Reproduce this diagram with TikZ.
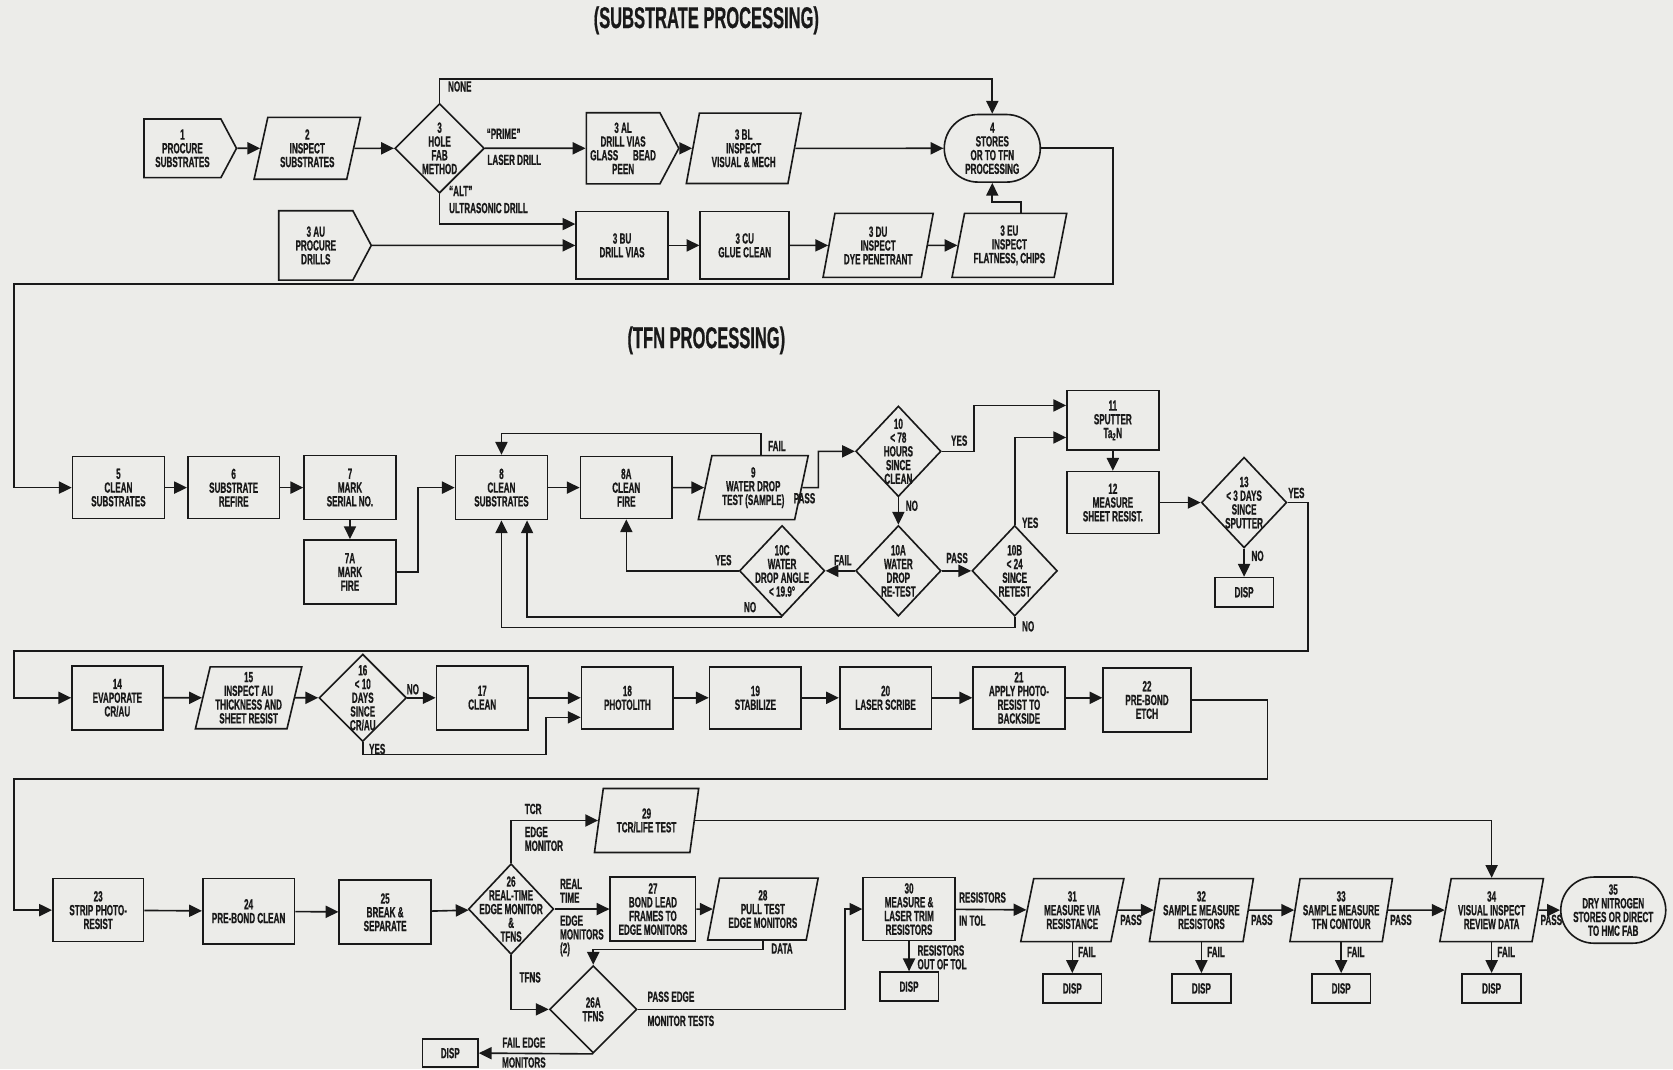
\documentclass[tikz,border=0pt]{standalone}
\usepackage{fontspec}
\setmainfont{Liberation Sans}[FakeStretch=0.55,BoldFeatures={FakeBold=0.6}]
\usetikzlibrary{positioning,shapes.geometric,shapes.symbols,shapes.misc,arrows.meta}

\definecolor{paper}{RGB}{236,236,233}
\definecolor{ink}{RGB}{25,25,25}
\newcommand{\chartfont}{\fontsize{11.8}{11}\selectfont\bfseries}
\newcommand{\titlefont}{\fontsize{24}{24}\selectfont\bfseries}

\begin{document}
\begin{tikzpicture}[x=0.03cm,y=-0.03cm,color=ink,line width=1.3pt,
    every node/.style={font=\chartfont,align=center,inner sep=0pt},
    box/.style={draw,rectangle,minimum width=2.58cm,minimum height=1.77cm},
    para/.style={draw,trapezium,trapezium left angle=76,trapezium right angle=104,
      trapezium stretches=true,minimum width=3cm,minimum height=1.74cm},
    pent/.style={draw,signal,signal to=east,signal pointer angle=124,
      minimum width=2.6cm,minimum height=1.65cm},
    dec/.style={draw,diamond,minimum width=2.4cm,minimum height=2.55cm},
    oval/.style={draw,rounded rectangle,minimum width=2.7cm,minimum height=1.9cm},
    disp/.style={draw,rectangle,minimum width=1.65cm,minimum height=0.82cm},
    lbl/.style={inner sep=1pt},
    arr/.style={-{Triangle[length=0.36cm,width=0.34cm]}}]

  \fill[paper] (0,0) rectangle (1568,1002);
  \useasboundingbox (0,0) rectangle (1568,1002);

  %substrate processing
  \node[font=\titlefont] (ttlsub) at (662,19) {(SUBSTRATE PROCESSING)};
  \node[pent] (p1) at (171,139) {1\\PROCURE\\SUBSTRATES};
  \node[para] (p2) at (288,139) {2\\INSPECT\\SUBSTRATES};
  \node[dec,minimum width=2.52cm,minimum height=2.52cm,
    label={center:{3\\HOLE\\FAB\\METHOD}}] (p3) at (412,139) {};
  \node[pent,minimum height=2cm] (p3AL) at (584,139) {3 AL\\DRILL VIAS\\GLASS\quad BEAD\\PEEN};
  \node[para,minimum width=3.24cm,minimum height=1.98cm] (p3BL) at (697,139) {3 BL\\INSPECT\\VISUAL \& MECH};
  \node[oval] (p4) at (930,139) {4\\STORES\\OR TO TFN\\PROCESSING};
  \node[pent,minimum height=1.95cm] (p3AU) at (296,230) {3 AU\\PROCURE\\DRILLS};
  \node[box,minimum height=1.9cm] (p3BU) at (583,230) {3 BU\\DRILL VIAS};
  \node[box,minimum width=2.5cm,minimum height=1.9cm] (p3CU) at (698,230) {3 CU\\GLUE CLEAN};
  \node[para,minimum width=3.1cm,minimum height=1.8cm] (p3DU) at (823,230) {3 DU\\INSPECT\\DYE PENETRANT};
  \node[para,minimum width=3.24cm,minimum height=1.8cm] (p3EU) at (946,230) {3 EU\\INSPECT\\FLATNESS, CHIPS};

  \draw[arr] (p1) -- (p2);
  \draw[arr] (p2) -- (p3);
  \draw[arr] (p3.north) -- ++(0,-22) -| (p4.north);
  \draw[arr] (p3.east) -- (p3AL);
  \draw[arr] (p3.south) |- ([yshift=0.6cm]p3BU.west);
  \draw[arr] (p3AL) -- (p3BL);
  \draw[arr] (p3BL) -- (p4);
  \draw[arr] (p3AU) -- (p3BU);
  \draw[arr] (p3BU) -- (p3CU);
  \draw[arr] (p3CU) -- (p3DU);
  \draw[arr] (p3DU) -- (p3EU);
  \draw[arr] ([xshift=0.33cm]p3EU.north) -- ++(0,-10) -| (p4.south);

  \node[lbl,anchor=west] (lnone) at (418,81) {NONE};
  \node[lbl,anchor=south] (lprime) at (472,132) {“PRIME”};
  \node[lbl,anchor=north] (llaser) at (482,143) {LASER DRILL};
  \node[lbl,anchor=west] (lalt) at (419,179) {“ALT”};
  \node[lbl,anchor=west] (lultra) at (419,195) {ULTRASONIC DRILL};

  %tfn processing
  \node[font=\titlefont] (ttltfn) at (662,319) {(TFN PROCESSING)};
  \node[box,minimum height=1.74cm] (p5) at (111,457) {5\\CLEAN\\SUBSTRATES};
  \node[box,minimum height=1.74cm] (p6) at (219,457) {6\\SUBSTRATE\\REFIRE};
  \node[box,minimum height=1.8cm] (p7) at (328,457) {7\\MARK\\SERIAL NO.};
  \node[box,minimum height=1.8cm] (p7A) at (328,536) {7A\\MARK\\FIRE};
  \node[box,minimum height=1.8cm] (p8) at (470,457) {8\\CLEAN\\SUBSTRATES};
  \node[box,minimum height=1.74cm] (p8A) at (587,457) {8A\\CLEAN\\FIRE};
  \node[para,minimum width=3.1cm,minimum height=1.8cm] (p9) at (706,457) {9\\WATER DROP\\TEST (SAMPLE)};
  \node[dec,label={center:{10\\< 78\\HOURS\\SINCE\\CLEAN}}] (p10) at (842,423) {};
  \node[dec,label={center:{10A\\WATER\\DROP\\RE-TEST}}] (p10A) at (842,535) {};
  \node[dec,label={center:{10B\\< 24\\SINCE\\RETEST}}] (p10B) at (951,535) {};
  \node[dec,label={center:{10C\\WATER\\DROP ANGLE\\< 19.9°}}] (p10C) at (733,535) {};
  \node[box,minimum height=1.68cm] (p11) at (1043,394) {11\\SPUTTER\\Ta\textsubscript{2}N};
  \node[box,minimum height=1.74cm] (p12) at (1043,471) {12\\MEASURE\\SHEET RESIST.};
  \node[dec,label={center:{13\\< 3 DAYS\\SINCE\\SPUTTER}}] (p13) at (1166,471) {};
  \node[disp] (disp13) at (1166,555) {DISP};

  \draw[arr] (p4.east) -- (1043,139) -- (1043,266) -- (13,266) |- (p5.west);
  \draw[arr] (p5) -- (p6);
  \draw[arr] (p6) -- (p7);
  \draw[arr] (p7) -- (p7A);
  \draw[arr] (p7A.east) -- ++(20,0) |- (p8.west);
  \draw[arr] (p8) -- (p8A);
  \draw[arr] (p8A) -- (p9);
  \draw[arr] ([xshift=0.21cm]p9.north) -- ++(0,-20) -| (p8.north);
  \draw[arr] (p9.east) -- (767,457) |- (p10.west);
  \draw[arr] (p10.east) -- (913,423) |- ([yshift=0.42cm]p11.west);
  \draw[arr] (p10.south) -- (p10A.north);
  \draw[arr] (p10A.east) -- (p10B.west);
  \draw[arr] (p10A.west) -- (p10C.east);
  \draw[arr] (p10C.west) -| (p8A.south);
  \draw[arr] (p10C.south) -| ([xshift=0.72cm]p8.south);
  \draw[arr] (p10B.north) |- ([yshift=-0.48cm]p11.west);
  \draw[arr] (p10B.south) -- ++(0,10) -| (p8.south);
  \draw[arr] (p11) -- (p12);
  \draw[arr] (p12) -- (p13);
  \draw[arr] (p13.south) -- (disp13.north);

  \node[lbl,anchor=west] (lfail9) at (718,418) {FAIL};
  \node[lbl] (lpass9) at (754,467) {PASS};
  \node[lbl] (lyes10) at (899,413) {YES};
  \node[lbl,anchor=west] (lno10) at (847,474) {NO};
  \node[lbl] (lpass10A) at (897,523) {PASS};
  \node[lbl] (lfail10A) at (790,525) {FAIL};
  \node[lbl] (lyes10C) at (678,525) {YES};
  \node[lbl] (lno10C) at (703,569) {NO};
  \node[lbl,anchor=west] (lyes10B) at (956,490) {YES};
  \node[lbl,anchor=west] (lno10B) at (956,587) {NO};
  \node[lbl,anchor=west] (lno13) at (1171,521) {NO};
  \node[lbl] (lyes13) at (1215,462) {YES};

  \node[box,minimum width=2.55cm,minimum height=1.8cm] (p14) at (110,654) {14\\EVAPORATE\\CR/AU};
  \node[para,minimum height=1.74cm] (p15) at (233,654) {15\\INSPECT AU\\THICKNESS AND\\SHEET RESIST};
  \node[dec,minimum width=2.46cm,minimum height=2.46cm,
    label={center:{16\\< 10\\DAYS\\SINCE\\CR/AU}}] (p16) at (340,654) {};
  \node[box,minimum height=1.8cm] (p17) at (452,654) {17\\CLEAN};
  \node[box,minimum height=1.74cm] (p18) at (588,654) {18\\PHOTOLITH};
  \node[box,minimum height=1.74cm] (p19) at (708,654) {19\\STABILIZE};
  \node[box,minimum height=1.74cm] (p20) at (830,654) {20\\LASER SCRIBE};
  \node[box,minimum height=1.74cm] (p21) at (955,654) {21\\APPLY PHOTO-\\RESIST TO\\BACKSIDE};
  \node[box,minimum width=2.46cm,minimum height=1.8cm] (p22) at (1075,656) {22\\PRE-BOND\\ETCH};

  \draw[arr] (p13.east) -- (1226,471) -- (1226,610) -- (13,610) |- (p14.west);
  \draw[arr] (p14) -- (p15);
  \draw[arr] (p15) -- (p16);
  \draw[arr] (p16) -- (p17);
  \draw[arr] (p16.south) |- (512,707) |- ([yshift=-0.55cm]p18.west);
  \draw[arr] (p17) -- (p18);
  \draw[arr] (p18) -- (p19);
  \draw[arr] (p19) -- (p20);
  \draw[arr] (p20) -- (p21);
  \draw[arr] (p21.east) -- (p21.east -| p22.west);

  \node[lbl] (lno16) at (387,646) {NO};
  \node[lbl,anchor=west] (lyes16) at (344,702) {YES};

  \node[box,minimum width=2.55cm,minimum height=1.77cm] (p23) at (92,853) {23\\STRIP PHOTO-\\RESIST};
  \node[box,minimum height=1.83cm] (p24) at (233,854) {24\\PRE-BOND CLEAN};
  \node[box,minimum height=1.8cm] (p25) at (361,855) {25\\BREAK \&\\SEPARATE};
  \node[dec,label={center:{26\\REAL-TIME\\EDGE MONITOR\\\&\\TFNS}}] (p26) at (479,852) {};
  \node[para,minimum width=2.94cm,minimum height=1.8cm] (p29) at (606,769) {29\\TCR/LIFE TEST};
  \node[box,minimum width=2.4cm,minimum height=1.8cm] (p27) at (612,852) {27\\BOND LEAD\\FRAMES TO\\EDGE MONITORS};
  \node[para,minimum width=3.12cm,minimum height=1.74cm] (p28) at (715,852) {28\\PULL TEST\\EDGE MONITORS};
  \node[dec,minimum width=2.46cm,minimum height=2.46cm,
    label={center:{26A\\TFNS}}] (p26A) at (556,946) {};
  \node[disp,minimum width=1.56cm,minimum height=0.78cm] (dispF) at (422,987) {DISP};
  \node[box,minimum height=1.77cm] (p30) at (852,852) {30\\MEASURE \&\\LASER TRIM\\RESISTORS};
  \node[disp,below=0.84cm of p30] (disp30) {DISP};
  \node[para,minimum width=2.9cm,minimum height=1.77cm] (p31) at (1005,853) {31\\MEASURE VIA\\RESISTANCE};
  \node[para,minimum width=2.94cm,minimum height=1.77cm] (p32) at (1126,853) {32\\SAMPLE MEASURE\\RESISTORS};
  \node[para,minimum width=2.9cm,minimum height=1.77cm] (p33) at (1257,853) {33\\SAMPLE MEASURE\\TFN CONTOUR};
  \node[para,minimum width=2.92cm,minimum height=1.77cm] (p34) at (1398,853) {34\\VISUAL INSPECT\\REVIEW DATA};
  \node[oval,minimum width=2.6cm,minimum height=1.86cm] (p35) at (1512,853) {35\\DRY NITROGEN\\STORES OR DIRECT\\TO HMC FAB};

  \draw[arr] (p22.east) -- (1188,656) -- (1188,730) -- (13,730) |- (p23.west);
  \draw[arr] (p23) -- (p24);
  \draw[arr] (p24) -- (p25);
  \draw[arr] (p25) -- (p26);
  \draw[arr] (p26.north) |- (p29.west);
  \draw[arr] (p29.east) -| (p34.north);
  \draw[arr] (p26.east) -- (p27);
  \draw[arr] (p27) -- (p28);
  \draw[arr] (p28.south) -- ++(0,8) -| (p26A.north);
  \draw[arr] (p26.south) |- (p26A.west);
  \draw[arr] (p26A.east) -- (792,946) |- (p30.west);
  \draw[arr] (p26A.south) -- (dispF.east);
  \draw[arr] (p30.south) -- (disp30.north);
  \draw[arr] (p30) -- (p31);

  \foreach \n in {31,...,34} {
    \node[disp,below=0.86cm of p\n] (disp\n) {DISP};
    \draw[arr] (p\n.south) -- (disp\n.north)
      node[lbl,pos=0,anchor=north west,xshift=3pt,yshift=-2pt] (lf\n) {FAIL};
  }
  \foreach \a/\b in {31/32,32/33,33/34,34/35} {
    \draw[arr] (p\a.east) -- (p\b.west)
      node[lbl,pos=0,anchor=north west,yshift=-2pt] (lp\a) {PASS};
  }

  \node[lbl,anchor=south west] (ltcr) at (490,765) {TCR};
  \node[lbl,anchor=north west,align=left] (ledge) at (490,773) {EDGE\\MONITOR};
  \node[lbl,anchor=south west,align=left] (lreal) at (523,848) {REAL\\TIME};
  \node[lbl,anchor=north west,align=left] (ledge2) at (523,856) {EDGE\\MONITORS\\(2)};
  \node[lbl,anchor=west] (ldata) at (721,889) {DATA};
  \node[lbl,anchor=west] (ltfns) at (485,916) {TFNS};
  \node[lbl,anchor=south west] (lpassedge) at (605,941) {PASS EDGE};
  \node[lbl,anchor=north west] (lmontest) at (605,950) {MONITOR TESTS};
  \node[lbl,anchor=south] (lfailedge) at (491,984) {FAIL EDGE};
  \node[lbl,anchor=north] (lmonitors) at (491,989) {MONITORS};
  \node[lbl,anchor=north west,align=left] (lout) at (858,884) {RESISTORS\\OUT OF TOL};
  \node[lbl,anchor=south west] (lres) at (897,848) {RESISTORS};
  \node[lbl,anchor=north west] (lintol) at (897,856) {IN TOL};
\end{tikzpicture}
\end{document}
